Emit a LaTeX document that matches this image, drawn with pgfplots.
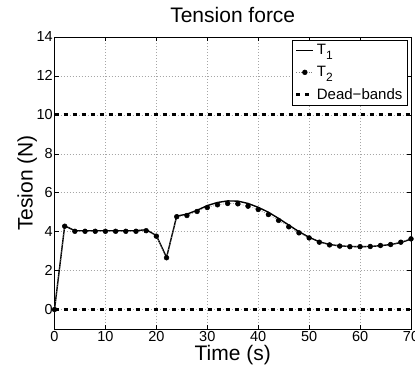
\documentclass[border=0pt]{standalone}
\usepackage{fontspec}
\setmainfont{Liberation Sans}
\usepackage{pgfplots}
\pgfplotsset{compat=1.18}
\newcommand{\sub}[1]{\raisebox{-5pt}{\fontsize{12}{12}\selectfont #1}}
\begin{document}
\begin{tikzpicture}
\begin{axis}[
  name=ax,
  scale only axis,
  width=356.5pt, height=292pt,
  xmin=0, xmax=70, ymin=-1, ymax=14,
  xtick={0,10,...,70}, ytick={0,2,...,14},
  tick align=inside, tick pos=both, major tick length=4pt,
  axis line style={line width=0.8pt},
  every tick/.style={black, line width=0.6pt},
  grid=major,
  major grid style={gray!70, line width=0.5pt, dash pattern=on 1pt off 2pt},
  /pgf/number format/assume math mode=true,
  ticklabel style={font=\fontsize{14.5}{16}\selectfont},
  yticklabel style={inner sep=1.5pt},
  xticklabel style={inner sep=2pt},
  every axis title/.style={at={(axis description cs:0.5,1)}, anchor=base, yshift=15pt, font=\fontsize{21}{24}\selectfont},
  title={Tension force},
  every axis x label/.style={at={(axis description cs:0.5,0)}, anchor=base, yshift=-31pt, font=\fontsize{21}{24}\selectfont},
  xlabel={Time (s)},
  every axis y label/.style={at={(axis description cs:-0.0617,0.5)}, anchor=base, rotate=90, font=\fontsize{21}{24}\selectfont},
  ylabel={Tesion (N)},
  legend style={at={(rel axis cs:0.989,0.99)}, anchor=north east, draw=black,
    font=\fontsize{15}{16}\selectfont, inner sep=2.5pt, row sep=6pt, cells={anchor=west}},
  legend cell align=left,
]
\addplot[black, line width=1.4pt] coordinates {
(0,0) (2,4.3) (4,4.05) (6,4.05) (8,4.05) (10,4.05) (12,4.05) (14,4.05) (16,4.05) (18,4.1)
(20,3.8) (22,2.68) (24,4.8) (26,4.9) (28,5.1) (30,5.34) (32,5.5) (34,5.58) (36,5.57)
(38,5.45) (40,5.25) (42,5.0) (44,4.68) (46,4.34) (48,4.0) (50,3.71) (52,3.48) (54,3.34)
(56,3.27) (58,3.24) (60,3.23) (62,3.24) (64,3.28) (66,3.34) (68,3.44) (70,3.62)
};
\addlegendentry{T\sub{1}}
\addplot[gray, line width=0.5pt, dash pattern=on 1pt off 1.5pt, mark=*, mark size=2.4pt,
  mark options={solid, fill=black, draw=black}] coordinates {
(0,0) (2,4.28) (4,4.02) (6,4.02) (8,4.02) (10,4.02) (12,4.02) (14,4.02) (16,4.02) (18,4.05)
(20,3.77) (22,2.66) (24,4.77) (26,4.83) (28,5.04) (30,5.24) (32,5.38) (34,5.45) (36,5.43)
(38,5.31) (40,5.14) (42,4.88) (44,4.58) (46,4.25) (48,3.94) (50,3.68) (52,3.46) (54,3.32)
(56,3.26) (58,3.23) (60,3.23) (62,3.24) (64,3.29) (66,3.34) (68,3.46) (70,3.63)
};
\addlegendentry{T\sub{2}}
\addplot[black, line width=3pt, dash pattern=on 4pt off 5pt] coordinates {(0,10) (70,10)};
\addlegendentry{Dead−bands}
\addplot[black, line width=3pt, dash pattern=on 4pt off 5pt, forget plot] coordinates {(0,0) (70,0)};
\end{axis}
\pgfresetboundingbox
\path[use as bounding box] ([xshift=-54.5pt,yshift=-46pt]ax.south west) rectangle ([xshift=4pt,yshift=37pt]ax.north east);
\end{tikzpicture}
\end{document}
